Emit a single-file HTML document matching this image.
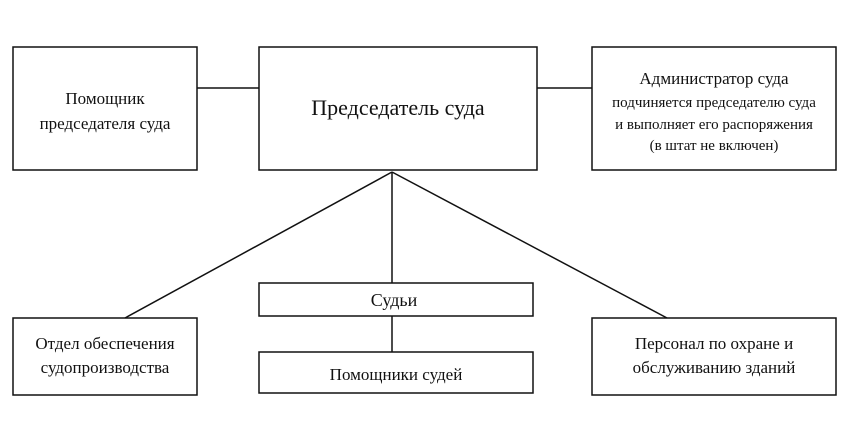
<!DOCTYPE html>
<html><head><meta charset="utf-8"><style>
body{margin:0;background:#fff;}
svg text{font-family:"Liberation Serif",serif;fill:#111;text-anchor:middle;}
</style></head><body>
<svg width="850" height="440" xmlns="http://www.w3.org/2000/svg">
<g fill="none" stroke="#111" stroke-width="1.5">
<rect x="13" y="47" width="184" height="123"/>
<rect x="259" y="47" width="278" height="123"/>
<rect x="592" y="47" width="244" height="123"/>
<rect x="259" y="283" width="274" height="33"/>
<rect x="259" y="352" width="274" height="41"/>
<rect x="13" y="318" width="184" height="77"/>
<rect x="592" y="318" width="244" height="77"/>
<line x1="197" y1="88" x2="259" y2="88"/>
<line x1="537" y1="88" x2="592" y2="88"/>
<line x1="392" y1="172" x2="125" y2="318"/>
<line x1="392" y1="172" x2="392" y2="283"/>
<line x1="392" y1="172" x2="667" y2="318"/>
<line x1="392" y1="316" x2="392" y2="352"/>
</g>
<text x="105" y="104" font-size="17">Помощник</text>
<text x="105" y="129" font-size="17">председателя суда</text>
<text x="398" y="115" font-size="22">Председатель суда</text>
<text x="714" y="84" font-size="17">Администратор суда</text>
<text x="714" y="107" font-size="15">подчиняется председателю суда</text>
<text x="714" y="129" font-size="15">и выполняет его распоряжения</text>
<text x="714" y="150" font-size="15">(в штат не включен)</text>
<text x="394" y="306" font-size="18">Судьи</text>
<text x="396" y="380" font-size="17">Помощники судей</text>
<text x="105" y="349" font-size="17">Отдел обеспечения</text>
<text x="105" y="373" font-size="17">судопроизводства</text>
<text x="714" y="349" font-size="17">Персонал по охране и</text>
<text x="714" y="373" font-size="17">обслуживанию зданий</text>
</svg>
</body></html>
